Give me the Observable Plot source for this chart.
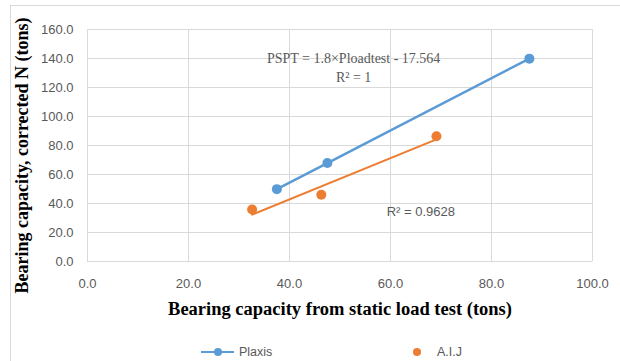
<!DOCTYPE html>
<html>
<head>
<meta charset="utf-8">
<script src="https://cdn.jsdelivr.net/npm/d3@7"></script>
<script src="https://cdn.jsdelivr.net/npm/@observablehq/plot@0.6"></script>
<style>
  html, body { margin: 0; padding: 0; background: #fff; }
  #chart { width: 620px; height: 361px; overflow: hidden; }
</style>
</head>
<body>
<div id="chart"></div>
<script>
// Data
const plaxisX = [37.5, 47.5, 87.5];
const plaxisY = [49.9, 67.9, 139.9];
const aijX = [32.6, 46.3, 69.1];
const aijY = [35.9, 46.0, 86.4];
const xTicks = [0, 20, 40, 60, 80, 100];
const yTicks = [0, 20, 40, 60, 80, 100, 120, 140, 160];
const seriesNames = ["Plaxis", "A.I.J"];
const equationText = "PSPT = 1.8×Ploadtest - 17.564";
const r2Plaxis = "R² = 1";
const r2Aij = "R² = 0.9628";
const xTitle = "Bearing capacity from static load test (tons)";
const yTitle = "Bearing capacity, corrected N (tons)";

const plaxis = plaxisX.map((x, i) => ({x, y: plaxisY[i]}));
const aij = aijX.map((x, i) => ({x, y: aijY[i]}));

const blue = "#5b9bd5";
const orange = "#ed7d31";
const grey = "#595959";
const sans = "'Liberation Sans', Arial, sans-serif";
const serif = "'Liberation Serif', 'Times New Roman', serif";

const chart = Plot.plot({
  width: 620,
  height: 361,
  marginLeft: 87,
  marginRight: 28,
  marginTop: 29,
  marginBottom: 100,
  style: {fontFamily: sans, background: "#fff", overflow: "visible"},
  x: {domain: [0, 100], ticks: xTicks},
  y: {domain: [0, 160], ticks: yTicks},
  marks: [
    Plot.gridX(xTicks, {stroke: "#d9d9d9", strokeOpacity: 1}),
    Plot.gridY(yTicks, {stroke: "#d9d9d9", strokeOpacity: 1}),
    Plot.axisX(xTicks, {tickSize: 0, tickPadding: 17, tickFormat: d3.format(".1f"), fontSize: 13, fill: grey, label: null}),
    Plot.axisY(yTicks, {tickSize: 0, tickPadding: 14, tickFormat: d3.format(".1f"), fontSize: 13, fill: grey, label: null}),
    Plot.linearRegressionY(aij, {x: "x", y: "y", stroke: orange, strokeWidth: 2, ci: 0}),
    Plot.line(plaxis, {x: "x", y: "y", stroke: blue, strokeWidth: 2.5}),
    Plot.dot(plaxis, {x: "x", y: "y", r: 5, fill: blue}),
    Plot.dot(aij, {x: "x", y: "y", r: 5, fill: orange}),
    Plot.text([equationText], {x: () => 52.7, y: () => 140, text: d => d, fontFamily: serif, fontSize: 14, fill: grey}),
    Plot.text([r2Plaxis], {x: () => 52.7, y: () => 127, text: d => d, fontFamily: serif, fontSize: 14, fill: grey}),
    Plot.text([r2Aij], {x: () => 66, y: () => 34.5, text: d => d, fontFamily: sans, fontSize: 13, fill: grey}),
    Plot.text([xTitle], {frameAnchor: "bottom", dy: 48, lineAnchor: "middle", text: d => d, fontFamily: serif, fontWeight: "bold", fontSize: 18.5, fill: "#000"}),
    Plot.text([yTitle], {frameAnchor: "left", dx: -65, dy: 10, rotate: -90, textAnchor: "middle", lineAnchor: "middle", text: d => d, fontFamily: serif, fontWeight: "bold", fontSize: 18, fill: "#000"})
  ]
});

document.getElementById("chart").appendChild(chart);

// chart-area outline and legend
const svg = d3.select(chart);
svg.insert("rect", ":first-child")
  .attr("x", 10.5).attr("y", 5.5).attr("width", 700).attr("height", 400)
  .attr("fill", "none").attr("stroke", "#d9d9d9");

const legend = svg.append("g").attr("font-family", sans).attr("font-size", 12.5).attr("fill", grey).attr("text-anchor", "start");
const legendY = 352;
legend.append("line").attr("x1", 201).attr("x2", 234).attr("y1", legendY).attr("y2", legendY)
  .attr("stroke", blue).attr("stroke-width", 2);
legend.append("circle").attr("cx", 218).attr("cy", legendY).attr("r", 4).attr("fill", blue);
legend.append("text").attr("x", 239).attr("y", legendY).attr("dy", "0.35em").attr("text-anchor", "start").text(seriesNames[0]);
legend.append("circle").attr("cx", 417).attr("cy", legendY).attr("r", 4).attr("fill", orange);
legend.append("text").attr("x", 437).attr("y", legendY).attr("dy", "0.35em").attr("text-anchor", "start").text(seriesNames[1]);
</script>
</body>
</html>
